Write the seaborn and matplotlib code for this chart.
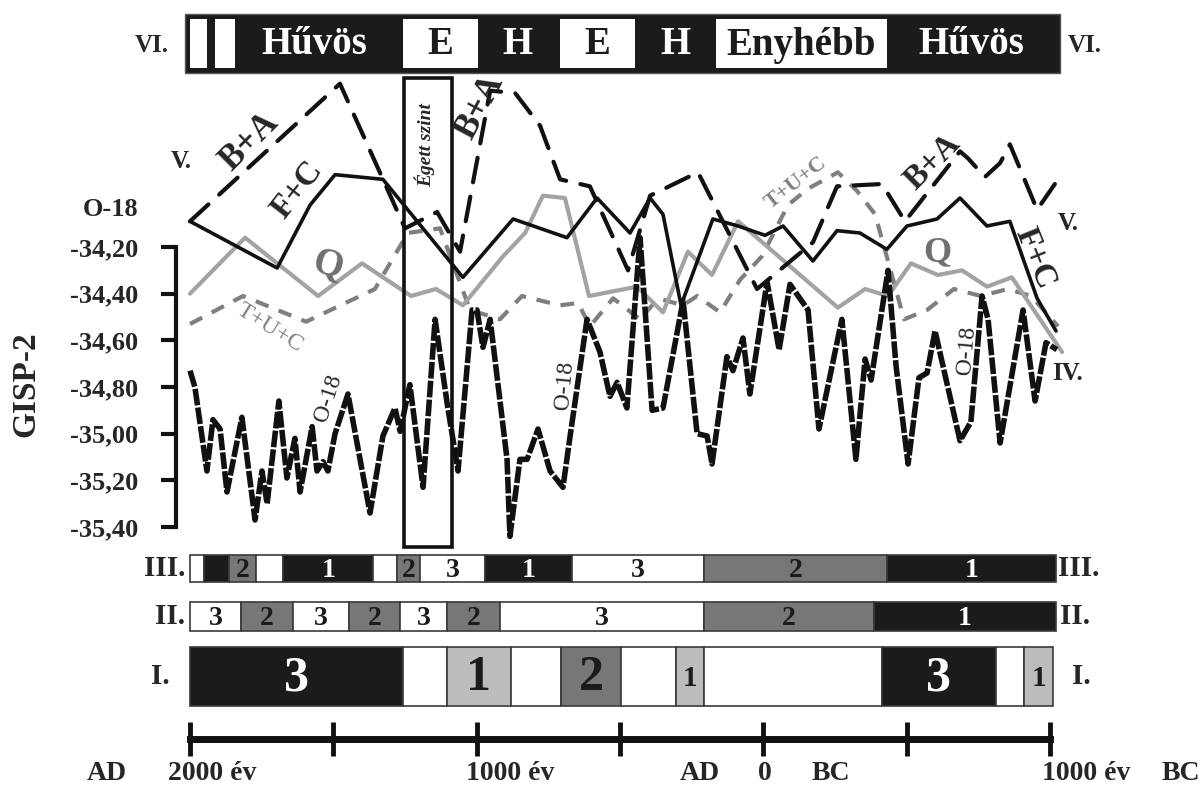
import matplotlib
matplotlib.use('Agg')
import matplotlib.pyplot as plt
from matplotlib.patches import Rectangle
import pandas as pd
import seaborn as sns

W, H = 1203, 786
# AD 2000 sits at pixel 190, 1000 BC at pixel 1050
X0, XPX, YPP = 2000, 190, 3000 / 860


def yr(px):
    return X0 - (px - XPX) * YPP


# GISP-2 O-18 curve (years: AD positive, BC negative)
o18_year = [2000, 1983, 1941, 1920, 1895, 1871, 1819, 1773, 1749, 1731, 1690, 1662, 1634, 1616, 1574,
            1557, 1536, 1519, 1494, 1449, 1372, 1327, 1285, 1267, 1233, 1187, 1145, 1103, 1065, 1016,
            999, 978, 953, 894, 884, 849, 824, 786, 744, 699, 674, 615, 570, 535, 510,
            476, 430, 388, 350, 280, 231, 196, 179, 127, 106, 71, 47, -13, -55, -93,
            -156, -194, -274, -323, -355, -376, -435, -463, -505, -543, -571, -599, -686, -724, -763,
            -784, -826, -906, -948, -986, -1024]
o18_val = [-34.73, -34.80, -35.16, -34.94, -34.98, -35.25, -34.93, -35.37, -35.16, -35.30, -34.86, -35.19, -35.02, -35.25, -34.97,
           -35.16, -35.12, -35.16, -35.00, -34.83, -35.34, -35.01, -34.89, -34.99, -34.79, -35.23, -34.51, -34.87, -35.16, -34.47,
           -34.47, -34.63, -34.51, -35.11, -35.44, -35.11, -35.11, -34.98, -35.16, -35.23, -35.01, -34.51, -34.65, -34.84, -34.78,
           -34.89, -34.16, -34.90, -34.89, -34.43, -35.00, -35.01, -35.13, -34.67, -34.73, -34.59, -34.83, -34.35, -34.64, -34.36,
           -34.47, -34.98, -34.51, -35.11, -34.68, -34.77, -34.30, -34.71, -35.13, -34.76, -34.74, -34.56, -35.03, -34.95, -34.41,
           -34.51, -35.04, -34.47, -34.86, -34.61, -34.64]

# B+A
ba_year = [2000, 1477, 1250, 1138, 1058, 953, 866, 779, 709, 605, 472, 395, 228, 22, -173,
           -257, -414, -494, -686, -714, -773, -826, -860, -955, -1017]
ba_val = [-34.09, -33.50, -34.12, -34.05, -34.22, -33.53, -33.54, -33.68, -33.91, -33.94, -34.30, -33.98, -33.88, -34.38, -34.18,
          -33.94, -33.93, -34.09, -33.79, -33.82, -33.90, -33.84, -33.76, -34.04, -33.93]

# F+C
fc_year = [2000, 1696, 1581, 1494, 1327, 1048, 873, 685, 580, 465, 395, 350, 287, 176, 88,
           -6, -69, -173, -257, -337, -431, -501, -606, -686, -780, -860, -955, -1021]
fc_val = [-34.09, -34.29, -34.02, -33.89, -33.91, -34.33, -34.08, -34.16, -33.99, -34.14, -33.99, -34.06, -34.45, -34.08, -34.11,
          -34.15, -34.11, -34.26, -34.13, -34.14, -34.21, -34.11, -34.08, -33.99, -34.11, -34.09, -34.42, -34.56]

# Q
q_year = [2000, 1808, 1553, 1400, 1229, 1142, 1048, 908, 831, 769, 692, 608, 441, 350, 263,
          179, 88, -6, -260, -355, -435, -515, -609, -693, -780, -867, -1042]
q_val = [-34.40, -34.16, -34.41, -34.27, -34.41, -34.38, -34.45, -34.24, -34.14, -33.98, -33.99, -34.41, -34.37, -34.48, -34.22,
         -34.32, -34.09, -34.19, -34.46, -34.38, -34.41, -34.27, -34.32, -34.30, -34.37, -34.33, -34.65]

# T+U+C
tuc_year = [2000, 1815, 1595, 1355, 1240, 1128, 1023, 919, 842, 709, 646, 605, 524, 430, 367,
            280, 231, 151, 81, 5, -86, -156, -260, -327, -390, -491, -571, -665, -759, -853,
            -934, -1028]
tuc_val = [-34.53, -34.41, -34.52, -34.38, -34.14, -34.12, -34.47, -34.51, -34.41, -34.45, -34.44, -34.54, -34.42, -34.51, -34.42,
           -34.45, -34.41, -34.48, -34.34, -34.24, -34.02, -33.95, -33.88, -33.96, -34.06, -34.51, -34.47, -34.38, -34.41, -34.38,
           -34.41, -34.54]

o18_ticks = [-34.2, -34.4, -34.6, -34.8, -35.0, -35.2, -35.4]
o18_ticklabels = ['-34,20', '-34,40', '-34,60', '-34,80', '-35,00', '-35,20', '-35,40']

# VI. sor
vi_span = (2017, -1035)
vi_white = [(2000, 1941), (1913, 1843), (1257, 995), (709, 448), (165, -431)]
vi_text = ['Hűvös', 'E', 'H', 'E', 'H', 'Enyhébb', 'Hűvös']
vi_text_year = [1567, 1126, 859, 578, 308, -133, -724]
vi_text_dark = [False, True, False, True, False, True, False]

# III. sor
iii_edges = [2000, 1950, 1865, 1770, 1675, 1360, 1278, 1196, 971, 667, 207, -431, -1020]
iii_kind = ['w', 'k', 'g', 'w', 'k', 'w', 'g', 'w', 'k', 'w', 'g', 'k']
iii_text = ['', '', '2', '', '1', '', '2', '3', '1', '3', '2', '1']

# II. sor
ii_edges = [2000, 1822, 1641, 1445, 1267, 1103, 919, 207, -386, -1020]
ii_kind = ['w', 'g', 'w', 'g', 'w', 'g', 'w', 'g', 'k']
ii_text = ['3', '2', '3', '2', '3', '2', '3', '2', '1']

# I. sor
i_edges = [2000, 1257, 1105, 880, 706, 497, 306, 207, -414, -810, -911, -1010]
i_kind = ['k', 'w', 'l', 'w', 'g', 'w', 'l', 'w', 'k', 'w', 'l']
i_text = ['3', '', '1', '', '2', '', '1', '', '3', '', '1']
i_size = [36, 0, 36, 0, 36, 0, 21, 0, 36, 0, 21]

egett = (1254, 1086)
scale_years = [2000, 1500, 1000, 500, 0, -500, -1000]

sns.set_style('white')
plt.rcParams['font.family'] = ['Liberation Serif', 'DejaVu Serif']
plt.rcParams['font.weight'] = 'bold'

fig = plt.figure(figsize=(W / 100, H / 100), dpi=100)

# main plot
lpx, rpx = 176, 1100
vpp = 1.2 / 280
ax = fig.add_axes([lpx / W, 0, (rpx - lpx) / W, 1])
ax.set_xlim(yr(lpx), yr(rpx))
ax.set_ylim(-34.2 - (H - 247) * vpp, -34.2 + 247 * vpp)
ax.patch.set_visible(False)

sns.lineplot(x=tuc_year, y=tuc_val, ax=ax, color='#7f7f7f', lw=3, sort=False, estimator=None,
             linestyle=(0, (3.3, 2.6)))
sns.lineplot(x=q_year, y=q_val, ax=ax, color='#a3a3a3', lw=3, sort=False, estimator=None)
sns.lineplot(x=ba_year, y=ba_val, ax=ax, color='#111111', lw=3, sort=False, estimator=None,
             linestyle=(0, (6, 3.5)), dash_capstyle='round')
sns.lineplot(x=fc_year, y=fc_val, ax=ax, color='#111111', lw=2.6, sort=False, estimator=None)
sns.lineplot(x=o18_year, y=o18_val, ax=ax, color='#111111', lw=4, sort=False, estimator=None,
             linestyle=(0, (3, 0.4)))

for s in ['top', 'right', 'bottom']:
    ax.spines[s].set_visible(False)
ax.spines['left'].set_linewidth(3)
ax.spines['left'].set_color('#111111')
ax.spines['left'].set_bounds(-35.4, -34.2)
ax.set_xticks([])
ax.set_yticks(o18_ticks)
ax.set_yticklabels(o18_ticklabels, fontsize=19, fontweight='bold')
ax.tick_params(axis='y', left=True, direction='out', length=11, width=3, pad=16, color='#111111')
ax.set_xlabel('')
ax.set_ylabel('')

# overlay for the bars and the labels
ov = fig.add_axes([0, 0, 1, 1])
ov.set_xlim(yr(0), yr(W))
ov.set_ylim(H, 0)
ov.axis('off')

colors = {'w': 'white', 'k': '#1b1b1b', 'g': '#777777', 'l': '#bcbcbc'}

ov.add_patch(Rectangle((vi_span[0], 14), vi_span[1] - vi_span[0], 59, fc='#1b1b1b', ec='#555555', lw=1))
for a, b in vi_white:
    ov.add_patch(Rectangle((a, 19), b - a, 49, fc='white', ec='none'))
for t, x, dark in zip(vi_text, vi_text_year, vi_text_dark):
    ov.text(x, 45, t, ha='center', va='center', fontsize=28, color='#1b1b1b' if dark else 'white')


def draw_row(edges, kinds, texts, top, bottom, sizes):
    for i in range(len(kinds)):
        a, b = edges[i], edges[i + 1]
        ov.add_patch(Rectangle((a, top), b - a, bottom - top, fc=colors[kinds[i]], ec='#3a3a3a', lw=1.2))
        if texts[i]:
            ov.text((a + b) / 2, (top + bottom) / 2 + 2, texts[i], ha='center', va='center',
                    fontsize=sizes[i], color='white' if kinds[i] == 'k' else '#1b1b1b')


draw_row(iii_edges, iii_kind, iii_text, 555, 582, [20] * len(iii_kind))
draw_row(ii_edges, ii_kind, ii_text, 602, 631, [20] * len(ii_kind))
draw_row(i_edges, i_kind, i_text, 647, 706, i_size)

# burnt layer box
ov.add_patch(Rectangle((egett[0], 78), egett[1] - egett[0], 469, fill=False, ec='#111111', lw=2.6))
ov.text(yr(425), 145, 'Égett szint', rotation=90, ha='center', va='center', fontsize=14, style='italic')

# row labels
side = [('VI.', 152, 46, 'center', 1068, 18), ('III.', 185, 569, 'right', 1058, 21),
        ('II.', 185, 616, 'right', 1060, 21), ('I.', 170, 677, 'right', 1072, 21)]
for t, lx, y, ha, rx, fs in side:
    ov.text(yr(lx), y, t, ha=ha, va='center', fontsize=fs)
    ov.text(yr(rx), y, t, ha='left', va='center', fontsize=fs)
ov.text(yr(181), 162, 'V.', ha='center', va='center', fontsize=18)
ov.text(yr(1058), 224, 'V.', ha='left', va='center', fontsize=18)
ov.text(yr(1052), 374, 'IV.', ha='left', va='center', fontsize=18)
ov.text(yr(138), 210, 'O-18', ha='right', va='center', fontsize=19)
ov.text(yr(26), 384, 'GISP-2', rotation=90, ha='center', va='center', fontsize=24)

# curve labels
ov.text(yr(250), 142, 'B+A', rotation=45, ha='center', va='center', fontsize=25)
ov.text(yr(480), 107, 'B+A', rotation=62, ha='center', va='center', fontsize=25)
ov.text(yr(933), 162, 'B+A', rotation=45, ha='center', va='center', fontsize=24)
ov.text(yr(297), 190, 'F+C', rotation=52, ha='center', va='center', fontsize=24)
ov.text(yr(1035), 258, 'F+C', rotation=-68, ha='center', va='center', fontsize=24)
ov.text(yr(328), 265, 'Q', rotation=-15, ha='center', va='center', fontsize=28, color='#707070')
ov.text(yr(937), 253, 'Q', ha='center', va='center', fontsize=26, color='#707070')
ov.text(yr(270), 328, 'T+U+C', rotation=-32, ha='center', va='center', fontsize=17,
        fontweight='normal', color='#808080')
ov.text(yr(796), 183, 'T+U+C', rotation=38, ha='center', va='center', fontsize=16, color='#808080')
ov.text(yr(328), 398, 'O-18', rotation=72, ha='center', va='center', fontsize=17, fontweight='normal')
ov.text(yr(565), 385, 'O-18', rotation=85, ha='center', va='center', fontsize=17, fontweight='normal')
ov.text(yr(967), 350, 'O-18', rotation=85, ha='center', va='center', fontsize=17, fontweight='normal')

# time scale
axt = fig.add_axes([0, (H - 739) / H, 1, 0.02])
axt.set_xlim(yr(0), yr(W))
for s in ['top', 'left', 'right']:
    axt.spines[s].set_visible(False)
axt.spines['bottom'].set_linewidth(5)
axt.spines['bottom'].set_color('#111111')
axt.spines['bottom'].set_bounds(-1000, 2000)
axt.set_xticks(scale_years)
axt.set_xticklabels([])
axt.set_yticks([])
axt.tick_params(axis='x', bottom=True, direction='inout', length=25, width=3.5, color='#111111')
axt.patch.set_visible(False)

for t, x in [('AD', 107), ('2000 év', 212), ('1000 év', 510), ('AD', 700), ('0', 765),
             ('BC', 831), ('1000 év', 1086), ('BC', 1181)]:
    ov.text(yr(x), 773, t, ha='center', va='center', fontsize=20)

fig.savefig('out.png', dpi=100, facecolor='white')
